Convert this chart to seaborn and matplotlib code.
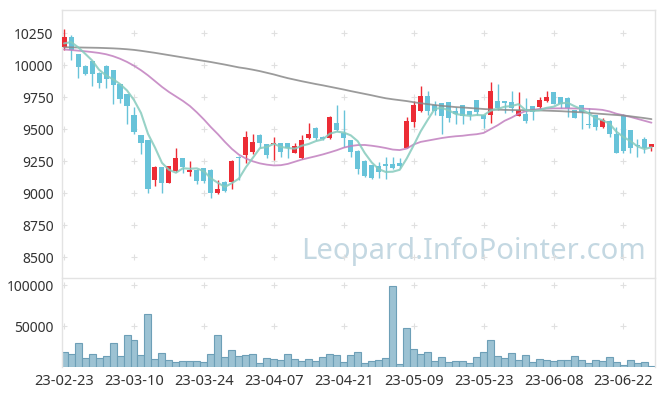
import matplotlib
matplotlib.use("Agg")
import matplotlib.pyplot as plt
import numpy as np
import pandas as pd
import seaborn as sns

sns.set_style("white")
plt.rcParams["font.family"] = ["Noto Sans", "DejaVu Sans"]

# KRX trading days, 2023-02-23 .. 2023-06-28
holidays = ["2023-03-01", "2023-05-01", "2023-05-05", "2023-05-29", "2023-06-06"]
dates = pd.bdate_range("2023-02-23", "2023-06-28", freq="C", holidays=holidays)

opens = [10138, 10216, 10086, 9995, 10031, 9940, 9995, 9961, 9852, 9771,
         9609, 9453, 9414, 9102, 9201, 9081, 9172, 9271, 9167, 9180,
         9193, 9180, 8997, 9089, 9089, 9284, 9297, 9323, 9453, 9383,
         9380, 9388, 9388, 9315, 9276, 9427, 9510, 9440, 9427, 9549,
         9466, 9414, 9328, 9250, 9219, 9211, 9224, 9224, 9237, 9354,
         9557, 9643, 9758, 9690, 9701, 9708, 9641, 9688, 9641, 9727,
         9609, 9609, 9719, 9719, 9708, 9604, 9615, 9680, 9675, 9721,
         9789, 9747, 9745, 9648, 9688, 9539, 9609, 9518, 9565, 9461,
         9609, 9492, 9375, 9419, 9362]
highs = [10279, 10234, 10090, 9998, 10035, 9945, 10000, 9965, 9855, 9775,
         9674, 9455, 9414, 9210, 9205, 9215, 9349, 9275, 9250, 9185,
         9195, 9185, 9102, 9095, 9255, 9290, 9484, 9461, 9458, 9386,
         9440, 9392, 9392, 9388, 9453, 9544, 9515, 9445, 9604, 9687,
         9648, 9418, 9335, 9255, 9222, 9240, 9284, 9284, 9271, 9596,
         9720, 9836, 9799, 9718, 9705, 9712, 9675, 9692, 9645, 9730,
         9612, 9865, 9849, 9722, 9797, 9786, 9740, 9683, 9753, 9799,
         9792, 9750, 9748, 9650, 9690, 9661, 9612, 9590, 9570, 9520,
         9615, 9495, 9419, 9435, 9385]
lows = [10117, 10039, 9896, 9925, 9836, 9825, 9825, 9700, 9705, 9542,
        9461, 9302, 8997, 9055, 8997, 9075, 9165, 9154, 9135, 9070,
        9075, 8958, 8990, 9010, 9029, 9100, 9237, 9302, 9354, 9271,
        9258, 9284, 9276, 9310, 9270, 9420, 9414, 9412, 9420, 9488,
        9362, 9284, 9146, 9125, 9109, 9115, 9109, 9185, 9193, 9350,
        9518, 9635, 9609, 9609, 9461, 9557, 9537, 9537, 9570, 9610,
        9505, 9544, 9648, 9622, 9635, 9602, 9544, 9570, 9650, 9713,
        9695, 9662, 9596, 9589, 9497, 9505, 9490, 9505, 9440, 9315,
        9315, 9310, 9279, 9310, 9325]
closes = [10221, 10117, 9987, 9930, 9930, 9857, 9891, 9844, 9737, 9682,
          9479, 9388, 9029, 9201, 9081, 9211, 9271, 9206, 9180, 9096,
          9096, 8997, 9031, 9018, 9250, 9271, 9440, 9401, 9393, 9297,
          9393, 9323, 9354, 9367, 9414, 9461, 9432, 9419, 9596, 9492,
          9427, 9323, 9188, 9135, 9120, 9167, 9213, 9198, 9211, 9562,
          9687, 9758, 9643, 9641, 9602, 9589, 9615, 9604, 9609, 9635,
          9575, 9797, 9667, 9701, 9661, 9648, 9565, 9635, 9727, 9753,
          9695, 9695, 9661, 9589, 9635, 9534, 9518, 9570, 9458, 9315,
          9331, 9354, 9367, 9354, 9383]
volumes = [18300, 15850, 29270, 10980, 15850, 10980, 13400, 29270, 13400, 38600,
           32900, 14600, 64600, 9750, 17000, 8540, 6100, 7300, 7300, 7300,
           6100, 15850, 38600, 11800, 20700, 13400, 14200, 15400, 4500, 10600,
           9750, 8100, 15400, 9750, 6900, 9750, 6900, 11800, 15400, 14200,
           5700, 14200, 17900, 4500, 6900, 8100, 10600, 98400, 3300, 47200,
           21500, 15400, 17900, 6900, 11800, 5700, 6900, 6900, 4500, 11800,
           17900, 32500, 13000, 10600, 16700, 8100, 14200, 5700, 9750, 8100,
           6900, 8100, 8100, 13000, 8100, 4500, 8100, 6900, 11800, 5700,
           2000, 8100, 4500, 5700, 900]

ma5 = [10170, 10180, 10140, 10090, 10037, 9964, 9919, 9890, 9852, 9802,
       9727, 9626, 9463, 9356, 9236, 9182, 9159, 9194, 9190, 9193,
       9170, 9115, 9080, 9048, 9078, 9113, 9202, 9276, 9351, 9360,
       9385, 9361, 9352, 9347, 9370, 9384, 9406, 9419, 9464, 9480,
       9473, 9451, 9405, 9313, 9239, 9187, 9165, 9167, 9182, 9270,
       9374, 9483, 9572, 9658, 9666, 9647, 9618, 9610, 9604, 9610,
       9608, 9644, 9657, 9675, 9680, 9695, 9648, 9642, 9647, 9666,
       9675, 9701, 9706, 9679, 9655, 9623, 9587, 9569, 9543, 9479,
       9438, 9406, 9365, 9344, 9358]
ma20 = [10122, 10118, 10113, 10108, 10102, 10095, 10085, 10070, 10050, 10025,
        9995, 9960, 9920, 9875, 9830, 9790, 9755, 9720, 9680, 9630,
        9575, 9515, 9460, 9400, 9345, 9300, 9270, 9248, 9232, 9222,
        9216, 9218, 9228, 9245, 9262, 9275, 9288, 9302, 9318, 9335,
        9355, 9368, 9375, 9376, 9370, 9362, 9352, 9340, 9336, 9348,
        9380, 9400, 9410, 9420, 9430, 9438, 9444, 9448, 9455, 9460,
        9470, 9500, 9530, 9565, 9590, 9620, 9640, 9650, 9658, 9661,
        9662, 9662, 9662, 9661, 9660, 9658, 9655, 9650, 9638, 9620,
        9608, 9595, 9580, 9565, 9550]
ma60 = [10140, 10139, 10138, 10137, 10136, 10135, 10133, 10131, 10128, 10124,
        10119, 10112, 10104, 10096, 10087, 10078, 10069, 10060, 10051, 10042,
        10033, 10024, 10014, 10004, 9993, 9982, 9974, 9964, 9953, 9940,
        9927, 9912, 9898, 9886, 9874, 9863, 9852, 9842, 9831, 9820,
        9809, 9797, 9786, 9775, 9764, 9752, 9741, 9733, 9726, 9719,
        9710, 9702, 9695, 9688, 9682, 9677, 9672, 9669, 9665, 9661,
        9657, 9654, 9652, 9650, 9649, 9648, 9648, 9647, 9646, 9644,
        9642, 9640, 9637, 9634, 9631, 9627, 9622, 9618, 9614, 9610,
        9606, 9600, 9593, 9586, 9578]

price_ticks = [8500, 8750, 9000, 9250, 9500, 9750, 10000, 10250]
volume_ticks = [50000, 100000]

df = pd.DataFrame({
    "idx": np.arange(len(dates)),
    "open": opens, "high": highs, "low": lows, "close": closes,
    "volume": volumes, "ma5": ma5, "ma20": ma20, "ma60": ma60,
})

RED = "#ec2c35"
CYAN = "#68c3d9"
GRID = "#e0e0e0"
SPINE = "#e3e3e3"

fig = plt.figure(figsize=(6.65, 3.96), dpi=100)
ax = fig.add_axes([0.0932, 0.3005, 0.8917, 0.674])
axv = fig.add_axes([0.0932, 0.0732, 0.8917, 0.2247], sharex=ax)

# candles
colors = np.where(df["close"] >= df["open"], RED, CYAN)
body_lo = np.minimum(df["open"], df["close"])
body_h = np.maximum(np.abs(df["close"] - df["open"]), 6)
ax.vlines(df["idx"], df["low"], df["high"], colors=colors, lw=1, zorder=2)
ax.bar(df["idx"], body_h, bottom=body_lo, width=0.72, color=colors,
       linewidth=0, zorder=3)

# moving averages
sns.lineplot(data=df, x="idx", y="ma20", ax=ax, color="#c17fbf", lw=1.3,
             alpha=0.85, zorder=4)
sns.lineplot(data=df, x="idx", y="ma60", ax=ax, color="#8a8a8a", lw=1.3,
             alpha=0.85, zorder=4)
sns.lineplot(data=df, x="idx", y="ma5", ax=ax, color="#86cbbd", lw=1.5,
             alpha=0.85, zorder=5)

# volume
sns.barplot(data=df, x="idx", y="volume", ax=axv, native_scale=True,
            width=1.0, color="#9cc2d3", edgecolor="#6d9fb7", linewidth=0.8,
            saturation=1)

xt = list(range(0, len(dates), 10))
xt_labels = [d.strftime("%y-%m-%d") for d in dates[::10]]

ax.set_xlim(-0.3, 84.5)
ax.set_ylim(8344, 10430)
axv.set_ylim(0, 108500)

# "+" grid marks
gx, gy = np.meshgrid(xt, price_ticks)
ax.scatter(gx.ravel(), gy.ravel(), marker="+", s=16, color=GRID, lw=0.8, zorder=1)
gx, gy = np.meshgrid(xt, volume_ticks)
axv.scatter(gx.ravel(), gy.ravel(), marker="+", s=16, color=GRID, lw=0.8, zorder=1)

ax.set_yticks(price_ticks)
axv.set_yticks(volume_ticks)
axv.set_xticks(xt)
axv.set_xticklabels(xt_labels)
ax.tick_params(axis="x", labelbottom=False, length=0)

for a in (ax, axv):
    a.set_xlabel("")
    a.set_ylabel("")
    a.tick_params(axis="y", length=0, pad=6, labelsize=10, labelcolor="#333333")
    for s in a.spines.values():
        s.set_color(SPINE)
        s.set_linewidth(1)
ax.spines["bottom"].set_visible(False)
axv.spines["bottom"].set_visible(False)
axv.tick_params(axis="x", length=0, pad=5, labelsize=10.5, labelcolor="#333333")

ax.text(0.985, 0.097, "Leopard.InfoPointer.com", transform=ax.transAxes,
        ha="right", va="center", fontsize=21, color="#c4d8e2",
        zorder=0)

fig.savefig("out.png", dpi=100)
